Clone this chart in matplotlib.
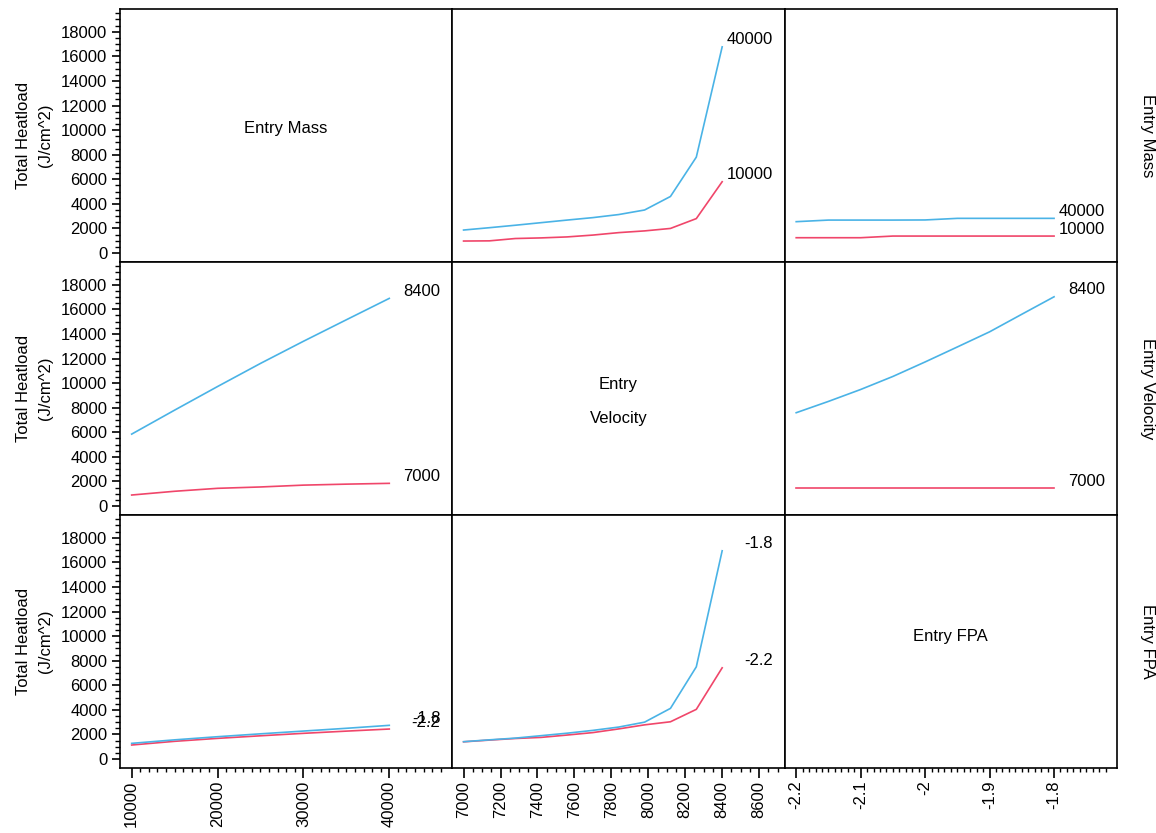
import numpy as np
import matplotlib
matplotlib.use("Agg")
import matplotlib.pyplot as plt
from matplotlib.ticker import MultipleLocator, FixedLocator

plt.rcParams['font.family'] = ['Liberation Sans', 'DejaVu Sans']
plt.rcParams['font.size'] = 12

# factor names / x grids
factors = ['Entry Mass', 'Entry Velocity', 'Entry FPA']
diag_text = ['Entry Mass', 'Entry\nVelocity', 'Entry FPA']
mass_x = [10000, 15000, 20000, 25000, 30000, 35000, 40000]
vel_x = [7000, 7140, 7280, 7420, 7560, 7700, 7840, 7980, 8120, 8260, 8400]
fpa_x = [-2.2, -2.15, -2.1, -2.05, -2.0, -1.95, -1.9, -1.85, -1.8]

# trace levels (low, high)
mass_levels = ['10000', '40000']
vel_levels = ['7000', '8400']
fpa_levels = ['-2.2', '-1.8']

# heatload, mass traces vs velocity
mass_lo_vs_vel = [975, 990, 1180, 1230, 1310, 1460, 1660, 1800, 2000, 2800, 5800]
mass_hi_vs_vel = [1870, 2060, 2260, 2470, 2680, 2880, 3130, 3500, 4600, 7800, 16770]
# mass traces vs fpa
mass_lo_vs_fpa = [1245, 1245, 1245, 1380, 1380, 1380, 1380, 1380, 1380]
mass_hi_vs_fpa = [2550, 2680, 2680, 2680, 2690, 2820, 2820, 2820, 2820]
# velocity traces vs mass
vel_lo_vs_mass = [895, 1200, 1440, 1550, 1700, 1780, 1845]
vel_hi_vs_mass = [5850, 7800, 9720, 11600, 13400, 15150, 16890]
# velocity traces vs fpa
vel_lo_vs_fpa = [1440, 1440, 1440, 1440, 1440, 1440, 1440, 1440, 1440]
vel_hi_vs_fpa = [7590, 8510, 9480, 10540, 11720, 12940, 14170, 15600, 17020]
# fpa traces vs mass
fpa_lo_vs_mass = [1140, 1440, 1680, 1890, 2090, 2270, 2440]
fpa_hi_vs_mass = [1275, 1560, 1815, 2050, 2275, 2500, 2740]
# fpa traces vs velocity
fpa_lo_vs_vel = [1400, 1540, 1670, 1760, 1950, 2150, 2450, 2780, 3030, 4040, 7420]
fpa_hi_vs_vel = [1410, 1560, 1700, 1900, 2100, 2330, 2600, 3000, 4120, 7500, 16940]

xs = [mass_x, vel_x, fpa_x]
levels = [mass_levels, vel_levels, fpa_levels]
traces = {
    (0, 1): (mass_lo_vs_vel, mass_hi_vs_vel),
    (0, 2): (mass_lo_vs_fpa, mass_hi_vs_fpa),
    (1, 0): (vel_lo_vs_mass, vel_hi_vs_mass),
    (1, 2): (vel_lo_vs_fpa, vel_hi_vs_fpa),
    (2, 0): (fpa_lo_vs_mass, fpa_hi_vs_mass),
    (2, 1): (fpa_lo_vs_vel, fpa_hi_vs_vel),
}

xlims = [(8640, 47340), (6939, 8738), (-2.218, -1.7025)]
major = [FixedLocator([10000, 20000, 30000, 40000]),
         FixedLocator(np.arange(7000, 8601, 200)),
         FixedLocator([-2.2, -2.1, -2.0, -1.9, -1.8])]
minor = [FixedLocator(np.arange(10000, 46001, 1000)),
         FixedLocator(np.arange(7000, 8701, 50)),
         FixedLocator(np.arange(-2.2, -1.715, 0.01))]
xfmt = [lambda v: '%d' % v, lambda v: '%d' % v, lambda v: ('%g' % round(v, 2))]

red = '#F0466A'
blue = '#4AB3E6'

W, H = 1156, 833
fig = plt.figure(figsize=(W / 100, H / 100), dpi=100)
left, top, cw, rh = 120, 9, 332.3, 253

for i in range(3):
    for j in range(3):
        ax = fig.add_axes([(left + j * cw) / W, 1 - (top + (i + 1) * rh) / H, cw / W, rh / H])
        ax.set_xlim(*xlims[j])
        ax.set_ylim(-730, 19850)
        for s in ax.spines.values():
            s.set_linewidth(1.2)
        if i == j:
            ax.text(0.5, [0.526, 0.45, 0.519][i], diag_text[i], transform=ax.transAxes,
                    ha='center', va='center', fontsize=12, linespacing=2.6)
        else:
            lo, hi = traces[(i, j)]
            ax.plot(xs[j], lo, color=red, lw=1.2)
            ax.plot(xs[j], hi, color=blue, lw=1.2)
            for vals, lab in [(lo, levels[i][0]), (hi, levels[i][1])]:
                ax.annotate(lab, xy=(1, vals[-1]), xycoords=ax.get_yaxis_transform(),
                            xytext=(-12, 7), textcoords='offset pixels',
                            ha='right', va='center', fontsize=12)
        # ticks
        if j == 0:
            ax.yaxis.set_major_locator(MultipleLocator(2000))
            ax.yaxis.set_minor_locator(FixedLocator(np.arange(0, 19600, 500)))
            ax.tick_params(axis='y', which='major', length=6, width=1.2, pad=3, labelsize=12)
            ax.tick_params(axis='y', which='minor', length=3.5, width=1.0)
            ax.set_ylabel('Total Heatload\n(J/cm^2)', fontsize=12, linespacing=1.6, labelpad=6)
        else:
            ax.set_yticks([])
            ax.yaxis.set_minor_locator(FixedLocator([]))
        if i == 2:
            ax.xaxis.set_major_locator(major[j])
            ax.xaxis.set_minor_locator(minor[j])
            ax.set_xticklabels([xfmt[j](v) for v in major[j].tick_values(0, 1)], rotation=90)
            ax.tick_params(axis='x', which='major', length=7, width=1.2, pad=2, labelsize=12)
            ax.tick_params(axis='x', which='minor', length=3, width=1.0)
        else:
            ax.set_xticks([])
            ax.xaxis.set_minor_locator(FixedLocator([]))
    fig.text(1147 / W, 1 - (top + (i + 0.5) * rh) / H, factors[i], rotation=270,
             ha='center', va='center', fontsize=12)

fig.savefig('out.png', dpi=100)
